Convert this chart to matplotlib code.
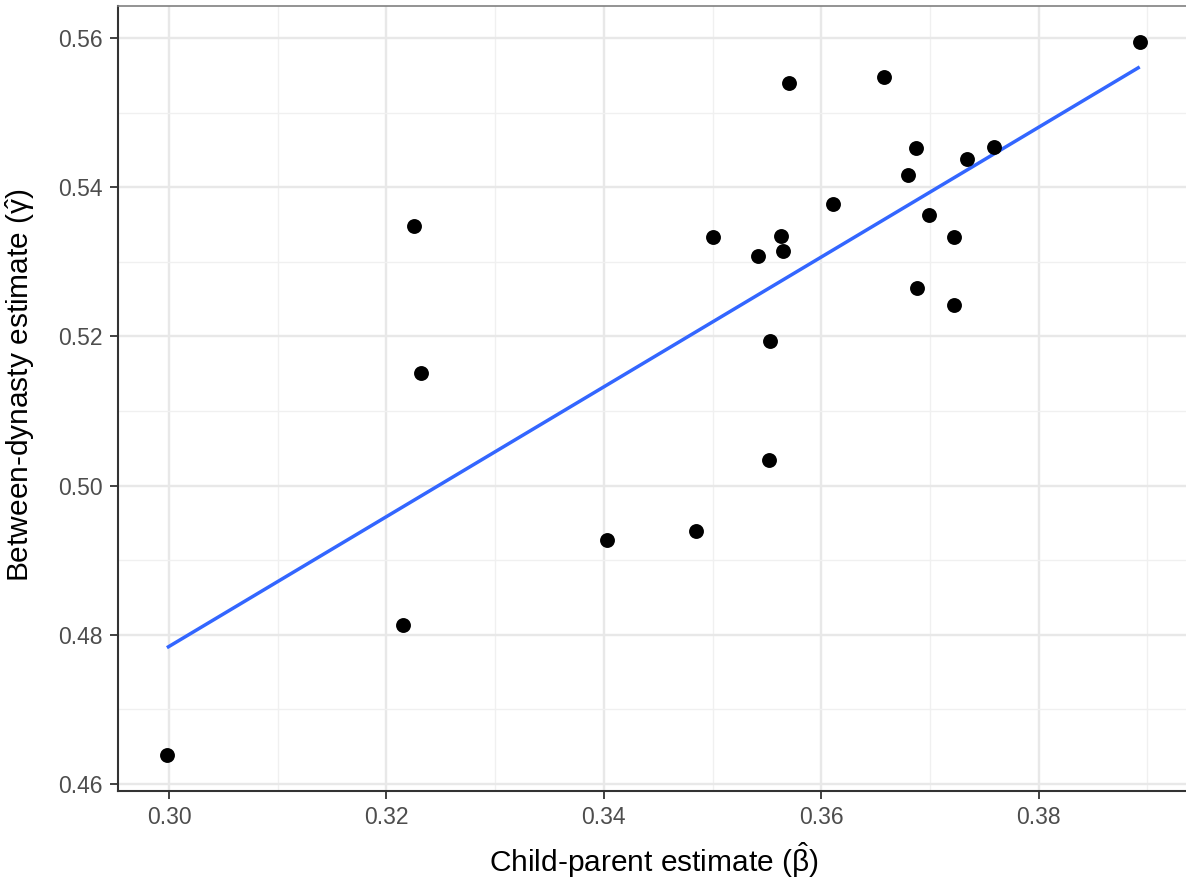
import numpy as np
import matplotlib
matplotlib.use("Agg")
from matplotlib import pyplot as plt
from matplotlib.ticker import MultipleLocator

# child-parent (beta hat) vs between-dynasty (gamma hat) estimates
beta_hat = [0.2998, 0.3215, 0.3225, 0.3232, 0.3403, 0.3485, 0.3500, 0.3542,
            0.3552, 0.3553, 0.3563, 0.3565, 0.3570, 0.3611, 0.3658, 0.3680,
            0.3687, 0.3688, 0.3699, 0.3722, 0.3722, 0.3734, 0.3759, 0.3893]
gamma_hat = [0.4639, 0.4813, 0.5348, 0.5151, 0.4927, 0.4939, 0.5333, 0.5308,
             0.5034, 0.5194, 0.5335, 0.5314, 0.5540, 0.5377, 0.5548, 0.5416,
             0.5453, 0.5265, 0.5363, 0.5333, 0.5242, 0.5438, 0.5454, 0.5595]

x_ticks = [0.30, 0.32, 0.34, 0.36, 0.38]
y_ticks = [0.46, 0.48, 0.50, 0.52, 0.54, 0.56]

plt.rcParams['font.family'] = ['Liberation Sans', 'DejaVu Sans']
plt.rcParams['mathtext.fontset'] = 'custom'
plt.rcParams['mathtext.rm'] = 'Liberation Sans'
plt.rcParams['mathtext.it'] = 'Liberation Sans'

fig = plt.figure(figsize=(11.86, 8.86), dpi=100)
ax = fig.add_axes([0.0995, 0.1076, 0.9027, 0.8856])

x = np.array(beta_hat)
y = np.array(gamma_hat)

# linear fit like geom_smooth(method = "lm", se = FALSE)
slope, intercept = np.polyfit(x, y, 1)
xs = np.array([x.min(), x.max()])
ax.plot(xs, slope * xs + intercept, color='#3366FF', lw=2.5, zorder=3,
        solid_capstyle='butt')

ax.scatter(x, y, s=115, color='black', zorder=4, linewidths=0)

ax.set_xlim(0.2953, 0.3938)
ax.set_ylim(0.4591, 0.5643)

ax.set_xticks(x_ticks)
ax.set_xticklabels(['%.2f' % v for v in x_ticks])
ax.set_yticks(y_ticks)
ax.set_yticklabels(['%.2f' % v for v in y_ticks])
ax.xaxis.set_minor_locator(MultipleLocator(0.01))
ax.yaxis.set_minor_locator(MultipleLocator(0.01))

ax.grid(which='major', color='#E8E8E8', lw=1.7, zorder=0)
ax.grid(which='minor', color='#F0F0F0', lw=1.0, zorder=0)
ax.set_axisbelow(True)

ax.tick_params(which='major', length=6, width=1.3, color='#333333',
               labelsize=16.5, labelcolor='#4D4D4D', pad=5)
ax.tick_params(which='minor', length=0)

ax.spines['left'].set_color('#333333')
ax.spines['bottom'].set_color('#333333')
ax.spines['left'].set_linewidth(1.5)
ax.spines['bottom'].set_linewidth(1.5)
ax.spines['top'].set_color('#808080')
ax.spines['top'].set_linewidth(1.2)
ax.spines['right'].set_visible(False)

ax.set_xlabel(r'Child-parent estimate ($\hat{\beta}$)', fontsize=21.5, labelpad=8)
ax.set_ylabel(r'Between-dynasty estimate ($\hat{\gamma}$)', fontsize=21.5)
ax.yaxis.set_label_coords(-0.076, 0.517)

plt.savefig('out.png', dpi=100)
